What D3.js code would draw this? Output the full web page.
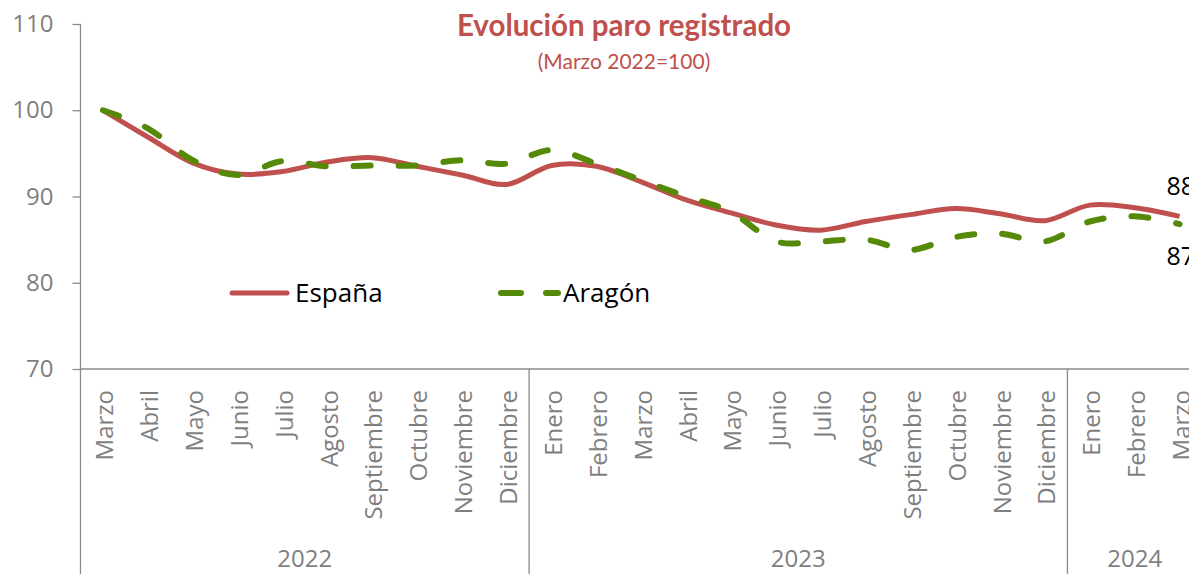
<!DOCTYPE html>
<html>
<head>
<meta charset="utf-8">
<script src="https://cdn.jsdelivr.net/npm/d3@7"></script>
<style>
  body { margin: 0; background: #fff; }
  svg { display: block; font-family: 'Open Sans', sans-serif; }
</style>
</head>
<body>
<div id="chart"></div>
<script>
// months along the x axis
const months = ['Marzo', 'Abril', 'Mayo', 'Junio', 'Julio', 'Agosto', 'Septiembre', 'Octubre', 'Noviembre', 'Diciembre',
  'Enero', 'Febrero', 'Marzo', 'Abril', 'Mayo', 'Junio', 'Julio', 'Agosto', 'Septiembre', 'Octubre', 'Noviembre', 'Diciembre',
  'Enero', 'Febrero', 'Marzo'];
const yearLabels = ['2022', '2023', '2024'];
const yearCounts = [10, 12, 3];

const espana = [100, 96.9, 93.9, 92.6, 92.9, 94.0, 94.5, 93.5, 92.5, 91.4, 93.6, 93.5, 91.7, 89.6, 88.1,
  86.7, 86.1, 87.1, 87.9, 88.6, 88.0, 87.2, 89.0, 88.7, 87.7];
const aragon = [100, 97.9, 94.2, 92.5, 94.1, 93.5, 93.6, 93.6, 94.2, 93.8, 95.4, 93.8, 91.9, 90.0, 88.2,
  84.8, 84.8, 85.0, 83.8, 85.3, 85.7, 84.8, 87.1, 87.7, 86.8];

const yTicks = [70, 80, 90, 100, 110];

const width = 1189;
const height = 574;
const red = '#C0504D';
const green = '#558A08';
const axisGray = '#8a8a8a';
const textGray = '#7f7f7f';

const svg = d3.select('#chart')
  .append('svg')
  .attr('width', width)
  .attr('height', height);

// category keys need to be unique
const keys = months.map((m, i) => i);

const xScale = d3.scaleBand()
  .domain(keys)
  .range([80.5, 1202]);

const yScale = d3.scaleLinear()
  .domain([70, 110])
  .range([369, 24]);

const cx = (i) => xScale(i) + xScale.bandwidth() / 2;

// Y axis
const yAxis = d3.axisLeft(yScale)
  .tickValues(yTicks)
  .tickSize(8)
  .tickPadding(19);

const yG = svg.append('g')
  .attr('transform', 'translate(80.5, 0)')
  .call(yAxis);
yG.select('.domain').remove();
yG.selectAll('line').attr('stroke', axisGray).attr('stroke-width', 1.3);
yG.selectAll('text')
  .attr('fill', textGray)
  .style('font-size', '24px')
  .style('font-family', 'Open Sans, sans-serif');

// axis lines (left line runs down through the category area too)
svg.append('line')
  .attr('x1', 80.5).attr('x2', 80.5)
  .attr('y1', yScale(110)).attr('y2', height)
  .attr('stroke', axisGray).attr('stroke-width', 1.3);

svg.append('line')
  .attr('x1', 80.5).attr('x2', width)
  .attr('y1', yScale(70)).attr('y2', yScale(70))
  .attr('stroke', axisGray).attr('stroke-width', 1.3);

// month labels
svg.append('g')
  .selectAll('text')
  .data(months)
  .join('text')
  .attr('transform', (d, i) => `translate(${cx(i) + 2}, 390) rotate(-90)`)
  .attr('text-anchor', 'end')
  .attr('dy', '0.35em')
  .attr('fill', textGray)
  .style('font-size', '24px')
  .text((d) => d);

// year groups
let start = 0;
const groups = yearLabels.map((y, k) => {
  const g = { label: y, first: start, last: start + yearCounts[k] - 1 };
  start += yearCounts[k];
  return g;
});

svg.append('g')
  .selectAll('line')
  .data(groups.slice(1))
  .join('line')
  .attr('x1', (d) => xScale(d.first))
  .attr('x2', (d) => xScale(d.first))
  .attr('y1', yScale(70))
  .attr('y2', height)
  .attr('stroke', axisGray)
  .attr('stroke-width', 1.3);

svg.append('g')
  .selectAll('text')
  .data(groups)
  .join('text')
  .attr('x', (d) => (xScale(d.first) + xScale(d.last) + xScale.bandwidth()) / 2)
  .attr('y', 567)
  .attr('text-anchor', 'middle')
  .attr('fill', textGray)
  .style('font-size', '24px')
  .text((d) => d.label);

// lines
const line = d3.line()
  .x((d, i) => cx(i))
  .y((d) => yScale(d))
  .curve(d3.curveCatmullRom.alpha(0));

svg.append('path')
  .datum(espana)
  .attr('d', line)
  .attr('fill', 'none')
  .attr('stroke', red)
  .attr('stroke-width', 5);

svg.append('path')
  .datum(aragon)
  .attr('d', line)
  .attr('fill', 'none')
  .attr('stroke', green)
  .attr('stroke-width', 6)
  .attr('stroke-linecap', 'round')
  .attr('stroke-dasharray', '17,28');

// end value labels
const last = months.length - 1;
svg.append('text')
  .attr('x', cx(last) - 13)
  .attr('y', yScale(espana[last]) - 21)
  .style('font-size', '25px')
  .attr('fill', '#000')
  .text(Math.round(espana[last]));

svg.append('text')
  .attr('x', cx(last) - 13)
  .attr('y', yScale(aragon[last]) + 41)
  .style('font-size', '25px')
  .attr('fill', '#000')
  .text(Math.round(aragon[last]));

// title
svg.append('text')
  .attr('x', 624)
  .attr('y', 36)
  .attr('text-anchor', 'middle')
  .attr('fill', red)
  .style('font-size', '29.5px')
  .style('font-weight', 'bold')
  .style('font-family', 'Lato, sans-serif')
  .text('Evolución paro registrado');

svg.append('text')
  .attr('x', 624)
  .attr('y', 69)
  .attr('text-anchor', 'middle')
  .attr('fill', red)
  .style('font-size', '21px')
  .style('font-family', 'Lato, sans-serif')
  .text('(Marzo 2022=100)');

// legend
const legend = svg.append('g');
legend.append('line')
  .attr('x1', 232).attr('x2', 287)
  .attr('y1', 293).attr('y2', 293)
  .attr('stroke', red).attr('stroke-width', 5).attr('stroke-linecap', 'round');
legend.append('text')
  .attr('x', 295).attr('y', 302)
  .style('font-size', '26px')
  .text('España');

legend.append('line')
  .attr('x1', 501).attr('x2', 558)
  .attr('y1', 293).attr('y2', 293)
  .attr('stroke', green).attr('stroke-width', 6).attr('stroke-linecap', 'round')
  .attr('stroke-dasharray', '20,25');
legend.append('text')
  .attr('x', 563).attr('y', 302)
  .style('font-size', '26px')
  .text('Aragón');
</script>
</body>
</html>
